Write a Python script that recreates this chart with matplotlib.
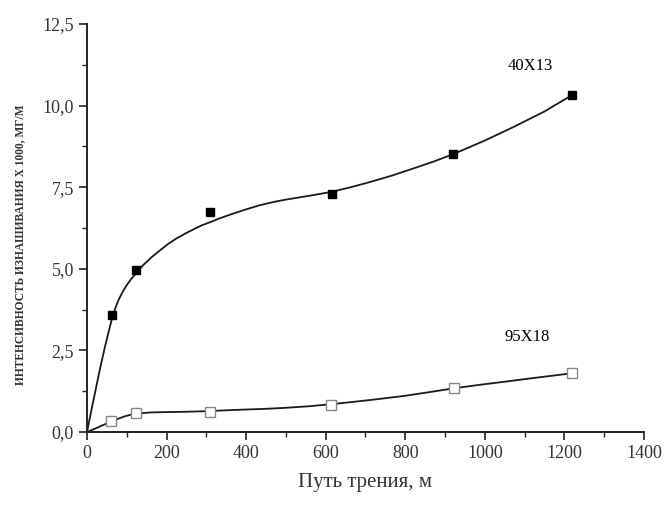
import matplotlib
matplotlib.use('Agg')
import matplotlib.pyplot as plt
from matplotlib.ticker import MultipleLocator, FuncFormatter

# Measured points
path_40x13 = [62, 123, 309, 616, 920, 1220]
wear_40x13 = [3.58, 4.97, 6.73, 7.28, 8.52, 10.34]
path_95x18 = [61, 123, 308, 613, 923, 1220]
wear_95x18 = [0.34, 0.58, 0.62, 0.84, 1.35, 1.80]

# Fitted curves
fit_x_40x13 = [0, 15, 33, 45, 55, 62, 70, 79, 90, 100, 110, 121, 140, 163,
               185, 205, 225, 247, 268, 288, 310, 330, 360, 397, 435, 470,
               500, 560, 616, 660, 712, 765, 817, 870, 922, 1000, 1073,
               1150, 1220]
fit_y_40x13 = [0, 0.9, 1.95, 2.6, 3.1, 3.43, 3.75, 4.04, 4.3, 4.5, 4.67,
               4.83, 5.1, 5.36, 5.58, 5.77, 5.93, 6.08, 6.21, 6.33, 6.43,
               6.53, 6.66, 6.81, 6.95, 7.05, 7.12, 7.24, 7.36, 7.49, 7.66,
               7.85, 8.06, 8.28, 8.52, 8.93, 9.35, 9.82, 10.33]
fit_x_95x18 = [0, 20, 40, 62, 79, 95, 110, 123, 140, 163, 200, 250, 305, 380,
               450, 498, 560, 613, 660, 712, 760, 800, 860, 923, 990, 1050,
               1120, 1220]
fit_y_95x18 = [0, 0.1, 0.21, 0.32, 0.41, 0.48, 0.53, 0.56, 0.58, 0.6, 0.61,
               0.62, 0.64, 0.68, 0.71, 0.74, 0.79, 0.85, 0.91, 0.98, 1.05,
               1.11, 1.22, 1.34, 1.45, 1.54, 1.65, 1.80]

plt.rcParams['font.family'] = ['Liberation Serif', 'DejaVu Serif']

fig = plt.figure(figsize=(6.67, 5.09), dpi=100)
ax = fig.add_axes([0.1304, 0.1513, 0.835, 0.8015])

ax.plot(fit_x_40x13, fit_y_40x13, color='#1a1a1a', lw=1.3)
ax.plot(fit_x_95x18, fit_y_95x18, color='#1a1a1a', lw=1.3)
ax.plot(path_40x13, wear_40x13, ls='none', marker='s', ms=6,
        mfc='black', mec='black')
ax.plot(path_95x18, wear_95x18, ls='none', marker='s', ms=6.5,
        mfc='white', mec='#888888', mew=1.0)

ax.text(1114, 11.2, '40X13', fontsize=12, ha='center', va='center')
ax.text(1107, 2.9, '95X18', fontsize=12, ha='center', va='center')

ax.set_xlim(0, 1400)
ax.set_ylim(0, 12.5)
ax.xaxis.set_major_locator(MultipleLocator(200))
ax.xaxis.set_minor_locator(MultipleLocator(100))
ax.yaxis.set_major_locator(MultipleLocator(2.5))
ax.yaxis.set_minor_locator(MultipleLocator(1.25))
ax.yaxis.set_major_formatter(FuncFormatter(lambda v, p: f'{v:.1f}'.replace('.', ',')))

for s in ['top', 'right']:
    ax.spines[s].set_visible(False)
for s in ['left', 'bottom']:
    ax.spines[s].set_linewidth(1.4)
    ax.spines[s].set_color('#222222')

ax.tick_params(which='major', direction='out', length=6, width=1.2,
               labelsize=13, colors='#222222', labelcolor='#333333')
ax.tick_params(which='minor', direction='out', length=3.5, width=1.0,
               colors='#222222')

ax.set_xlabel('Путь трения, м', fontsize=15, color='#333333', labelpad=8)
fig.text(0.03, 0.52, 'ИНТЕНСИВНОСТЬ ИЗНАШИВАНИЯ Х 1000, МГ/М', rotation=90,
         fontsize=8.3, fontweight='bold', ha='center', va='center',
         color='#333333')

fig.savefig('out.png', dpi=100, facecolor='white')
